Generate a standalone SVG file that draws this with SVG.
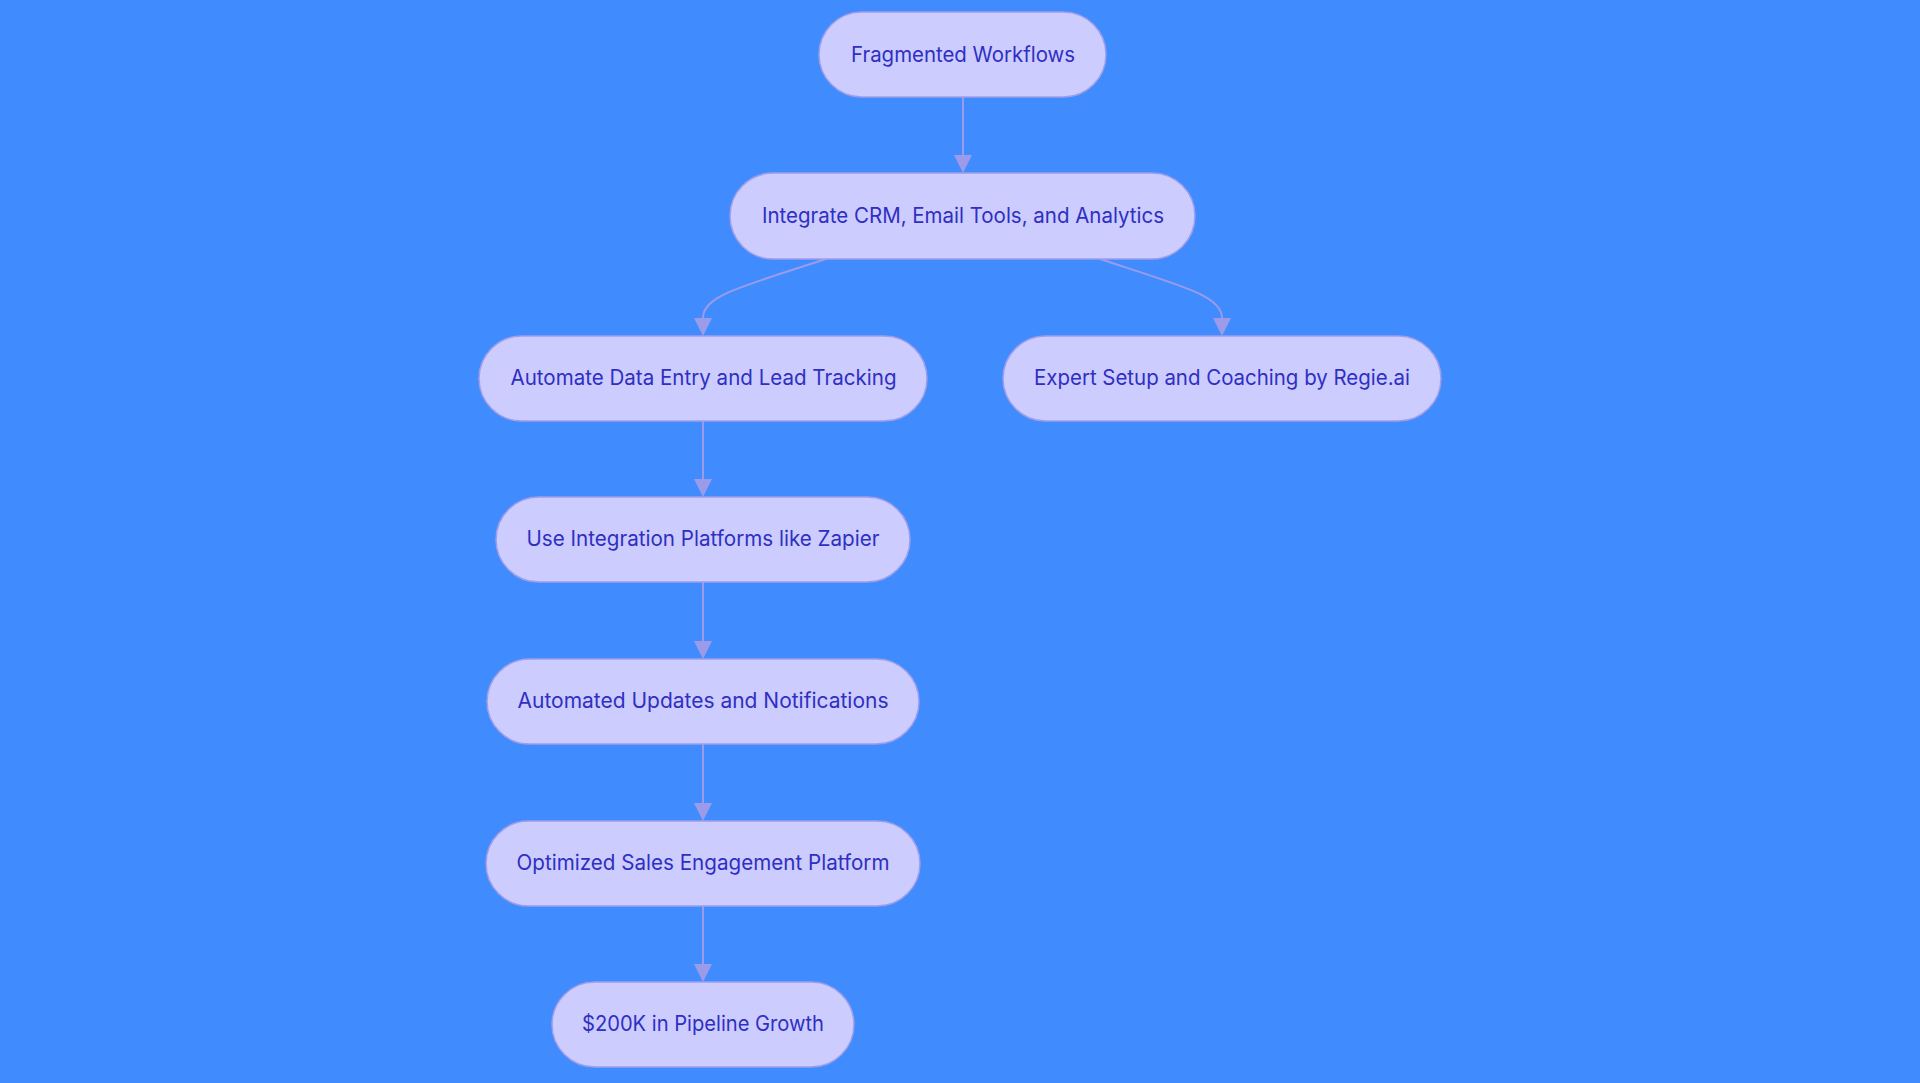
<svg xmlns="http://www.w3.org/2000/svg" width="1920" height="1083" viewBox="0 0 1920 1083">
<style>
.node rect{fill:#ccccff;stroke:#9d9de9;stroke-width:1.5}
.node text{font-family:Inter,"Open Sans","Liberation Sans",sans-serif;font-size:21px;fill:#2f2fc2;text-anchor:middle}
.edge{fill:none;stroke:#9b9bea;stroke-width:2;marker-end:url(#arr)}
</style>
<defs>
<marker id="arr" viewBox="0 0 10 10" refX="0" refY="5" markerWidth="18" markerHeight="18" markerUnits="userSpaceOnUse" orient="auto">
<path d="M0,0 L10,5 L0,10 z" fill="#9b9bea"/>
</marker>
</defs>
<rect x="0" y="0" width="1920" height="1083" fill="#408cff"/>
<g id="connectors">
<path class="edge" d="M963,97 L963,155"/>
<path class="edge" d="M826,259 C740,287 703,296 703,318"/>
<path class="edge" d="M1100,259 C1185,287 1222,296 1222,318"/>
<path class="edge" d="M703,421 L703,479"/>
<path class="edge" d="M703,582 L703,641"/>
<path class="edge" d="M703,744 L703,803"/>
<path class="edge" d="M703,906 L703,964"/>
</g>
<g id="n1" class="node"><rect x="819" y="12" width="287" height="85" rx="42.5"/><text x="963" y="61.5" textLength="224" lengthAdjust="spacingAndGlyphs">Fragmented Workflows</text></g>
<g id="n2" class="node"><rect x="730" y="173" width="465" height="86" rx="43"/><text x="963" y="222.5" textLength="402" lengthAdjust="spacingAndGlyphs">Integrate CRM, Email Tools, and Analytics</text></g>
<g id="n3" class="node"><rect x="479" y="336" width="448" height="85" rx="42.5"/><text x="703.5" y="384.5" textLength="386" lengthAdjust="spacingAndGlyphs">Automate Data Entry and Lead Tracking</text></g>
<g id="n4" class="node"><rect x="1003" y="336" width="438" height="85" rx="42.5"/><text x="1222" y="384.5" textLength="376" lengthAdjust="spacingAndGlyphs">Expert Setup and Coaching by Regie.ai</text></g>
<g id="n5" class="node"><rect x="496" y="497" width="414" height="85" rx="42.5"/><text x="703" y="546" textLength="353" lengthAdjust="spacingAndGlyphs">Use Integration Platforms like Zapier</text></g>
<g id="n6" class="node"><rect x="487" y="659" width="432" height="85" rx="42.5"/><text x="703" y="708" textLength="371" lengthAdjust="spacingAndGlyphs">Automated Updates and Notifications</text></g>
<g id="n7" class="node"><rect x="486" y="821" width="434" height="85" rx="42.5"/><text x="703" y="870" textLength="373" lengthAdjust="spacingAndGlyphs">Optimized Sales Engagement Platform</text></g>
<g id="n8" class="node"><rect x="552" y="982" width="302" height="85" rx="42.5"/><text x="703" y="1031" textLength="242" lengthAdjust="spacingAndGlyphs">$200K in Pipeline Growth</text></g>
</svg>
